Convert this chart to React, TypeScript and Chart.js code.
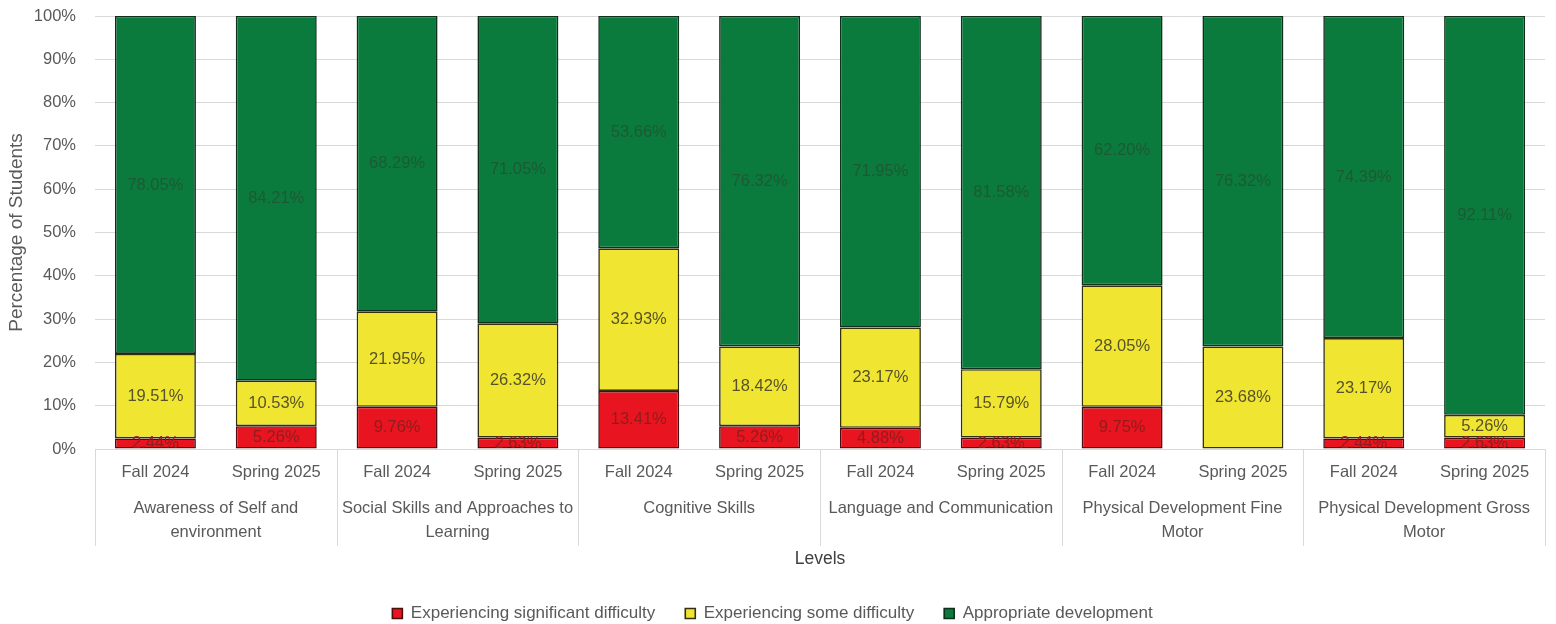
import React, { useEffect, useRef } from "react";
import { Chart, registerables } from "chart.js";

Chart.register(...registerables);

const periods = [
  "Fall 2024", "Spring 2025",
  "Fall 2024", "Spring 2025",
  "Fall 2024", "Spring 2025",
  "Fall 2024", "Spring 2025",
  "Fall 2024", "Spring 2025",
  "Fall 2024", "Spring 2025",
];

const domains = [
  ["Awareness of Self and", "environment"],
  ["Social Skills and Approaches to", "Learning"],
  ["Cognitive Skills"],
  ["Language and Communication"],
  ["Physical Development Fine", "Motor"],
  ["Physical Development Gross", "Motor"],
];

const significantDifficulty = [2.44, 5.26, 9.76, 2.63, 13.41, 5.26, 4.88, 2.63, 9.75, 0, 2.44, 2.63];
const someDifficulty = [19.51, 10.53, 21.95, 26.32, 32.93, 18.42, 23.17, 15.79, 28.05, 23.68, 23.17, 5.26];
const appropriateDevelopment = [78.05, 84.21, 68.29, 71.05, 53.66, 76.32, 71.95, 81.58, 62.2, 76.32, 74.39, 92.11];

const seriesNames = [
  "Experiencing significant difficulty",
  "Experiencing some difficulty",
  "Appropriate development",
];

const FONT = "'Liberation Sans', Arial, sans-serif";

const labelColors = ["#8f1d1d", "#57522a", "#1d5a33"];

const dataLabelPlugin = {
  id: "segmentLabels",
  afterDatasetsDraw(chart: any) {
    const ctx = chart.ctx;
    ctx.save();
    ctx.font = `16.5px ${FONT}`;
    ctx.textAlign = "center";
    ctx.textBaseline = "middle";
    chart.data.datasets.forEach((ds: any, di: number) => {
      const meta = chart.getDatasetMeta(di);
      meta.data.forEach((el: any, i: number) => {
        const v = ds.data[i];
        if (!v) return;
        const p = el.getProps(["x", "y", "base"], true);
        ctx.fillStyle = labelColors[di];
        ctx.fillText(v.toFixed(2) + "%", p.x, (p.y + p.base) / 2);
      });
    });
    ctx.restore();
  },
};

const separatorPlugin = {
  id: "groupSeparators",
  afterDraw(chart: any) {
    const xs = chart.scales.x;
    const x2 = chart.scales.x2;
    const ctx = chart.ctx;
    const step = xs.getPixelForValue(1) - xs.getPixelForValue(0);
    ctx.save();
    ctx.strokeStyle = "#d9d9d9";
    ctx.lineWidth = 1;
    for (let g = 0; g <= domains.length; g++) {
      const px = Math.round(xs.getPixelForValue(g * 2) - step / 2) + 0.5;
      ctx.beginPath();
      ctx.moveTo(px, chart.chartArea.bottom);
      ctx.lineTo(px, x2.top + 55);
      ctx.stroke();
    }
    ctx.restore();
  },
};

export default function App() {
  const ref = useRef<HTMLCanvasElement | null>(null);

  useEffect(() => {
    if (!ref.current) return;
    const chart = new Chart(ref.current, {
      type: "bar",
      data: {
        labels: periods,
        datasets: [
          {
            label: seriesNames[0],
            data: significantDifficulty,
            backgroundColor: "#e8141f",
            borderColor: "#4a0e0e",
            borderWidth: 1.6,
            borderSkipped: false,
          },
          {
            label: seriesNames[1],
            data: someDifficulty,
            backgroundColor: "#f0e631",
            borderColor: "#33300f",
            borderWidth: 1.6,
            borderSkipped: false,
          },
          {
            label: seriesNames[2],
            data: appropriateDevelopment,
            backgroundColor: "#0a7b3c",
            borderColor: "#0f2e1b",
            borderWidth: 1.6,
            borderSkipped: false,
          },
        ],
      },
      options: {
        animation: false,
        responsive: false,
        maintainAspectRatio: false,
        layout: { padding: { top: 16, right: 11, left: 0, bottom: -8 } },
        datasets: {
          bar: { categoryPercentage: 1, barPercentage: 0.67 },
        },
        plugins: {
          legend: {
            position: "bottom",
            labels: {
              font: { family: FONT, size: 17 },
              color: "#595959",
              boxWidth: 10,
              boxHeight: 10,
              padding: 30,
            },
          },
          tooltip: { enabled: false },
        },
        scales: {
          x: {
            stacked: true,
            position: "bottom",
            grid: { display: false, drawTicks: false },
            border: { display: false },
            ticks: {
              font: { family: FONT, size: 16.5 },
              color: "#595959",
              padding: 14,
              maxRotation: 0,
              autoSkip: false,
            },
            afterFit(scale: any) {
              scale.height = 42;
            },
          },
          x2: {
            type: "category",
            labels: domains as any,
            position: "bottom",
            offset: true,
            grid: { display: false, drawTicks: false },
            border: { display: false },
            ticks: {
              font: { family: FONT, size: 16.5, lineHeight: 1.42 },
              color: "#595959",
              padding: 6,
              maxRotation: 0,
              autoSkip: false,
            },
            title: {
              display: true,
              text: "Levels",
              font: { family: FONT, size: 17.5 },
              color: "#404040",
              padding: { top: 0, bottom: 5.5 },
            },
            afterFit(scale: any) {
              scale.height = 84;
            },
          },
          y: {
            stacked: true,
            min: 0,
            max: 100,
            grid: { color: "#d9d9d9", drawTicks: true, tickLength: 19, tickColor: "rgba(0,0,0,0)" },
            border: { display: false },
            ticks: {
              stepSize: 10,
              font: { family: FONT, size: 16.5 },
              color: "#595959",
              padding: 0,
              callback: (v: any) => v + "%",
            },
            title: {
              display: true,
              text: "Percentage of Students",
              font: { family: FONT, size: 19 },
              color: "#595959",
              padding: { top: 5, bottom: 2 },
            },
            afterFit(scale: any) {
              scale.width = 95;
            },
          },
        },
      },
      plugins: [dataLabelPlugin, separatorPlugin],
    });
    return () => chart.destroy();
  }, []);

  return (
    <div style={{ position: "fixed", left: 0, top: 0, width: 1556, height: 624, background: "#fff" }}>
      <canvas ref={ref} width={1556} height={624} style={{ width: 1556, height: 624, display: "block" }} />
    </div>
  );
}
